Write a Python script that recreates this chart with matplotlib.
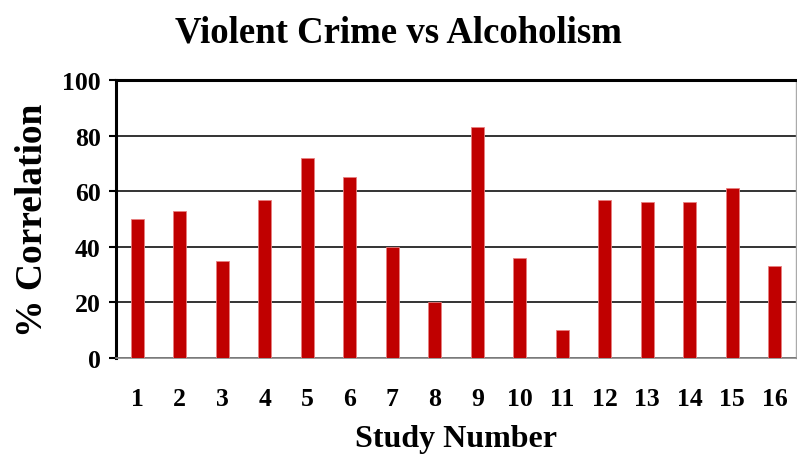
import numpy as np
import matplotlib.pyplot as plt

studies = [str(i) for i in range(1, 17)]
correlation = [50, 53, 35, 57, 72, 65, 40, 20, 83, 36, 10, 57, 56, 56, 61, 33]

plt.rcParams['font.family'] = ['Liberation Serif', 'DejaVu Serif']
plt.rcParams['font.weight'] = 'bold'

fig = plt.figure(figsize=(7.97, 4.56), dpi=100)
ax = fig.add_axes([0.1456, 0.2127, 0.853, 0.6097])

x = np.arange(len(studies))
ax.bar(x, correlation, width=0.31, color='#C00000', edgecolor='#E88080', linewidth=0.6, zorder=3)

ax.set_xlim(-0.5, len(studies) - 0.5)
ax.set_ylim(0, 100)
ax.set_yticks(range(0, 101, 20))
ax.set_xticks(x)
ax.set_xticklabels(studies)
ax.yaxis.grid(True, color='#333333', linewidth=1.4, zorder=0)
ax.set_axisbelow(True)

ax.spines['left'].set_linewidth(2.2)
ax.spines['left'].set_color('black')
ax.spines['top'].set_linewidth(2.2)
ax.spines['top'].set_color('black')
ax.spines['bottom'].set_color('#888888')
ax.spines['bottom'].set_linewidth(1.2)
ax.spines['right'].set_color('#aaaaaa')
ax.spines['right'].set_linewidth(1.0)

ax.tick_params(axis='y', length=5, width=1.5, labelsize=18.5, pad=6)
ax.tick_params(axis='x', length=0, labelsize=18.5, pad=21)

ax.set_ylabel('% Correlation', fontsize=27, fontweight='bold', labelpad=9)
ax.set_xlabel('Study Number', fontsize=23, fontweight='bold', labelpad=10)
fig.suptitle('Violent Crime vs Alcoholism', fontsize=26.5, fontweight='bold', x=0.5, y=0.965)

fig.savefig('out.png', dpi=100)
